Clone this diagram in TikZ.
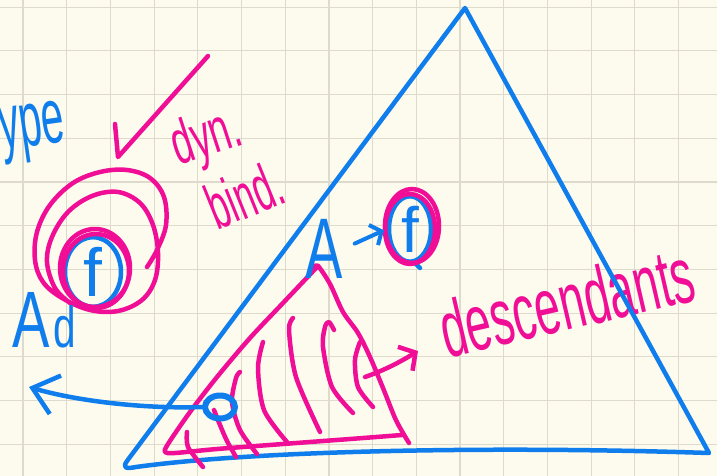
\documentclass[tikz,border=0pt]{standalone}
\usepackage{fontspec}
\setmainfont{Liberation Sans}
\usepackage{graphicx}
\usetikzlibrary{arrows.meta,shapes.geometric}
\definecolor{paper}{RGB}{252,251,238}
\definecolor{gridc}{RGB}{222,219,204}
\definecolor{penblue}{RGB}{16,125,236}
\definecolor{penpink}{RGB}{240,14,150}
\begin{document}
\begin{tikzpicture}[x=1pt,y=-1pt,line cap=round,line join=round,
  bpen/.style={draw=penblue,line width=4.5pt},
  ppen/.style={draw=penpink,line width=4.5pt},
  btext/.style={text=penblue,inner sep=0pt},
  ptext/.style={text=penpink,inner sep=0pt},
  gridline/.style={draw=gridc,line width=1.2pt}]
\useasboundingbox (0,0) rectangle (717,476);
\fill[paper] (0,0) rectangle (717,476);
\foreach \i in {0,...,15} \draw[gridline] ({23+43.7*\i},0) -- ({23+43.7*\i},476);
\foreach \j in {0,...,10} \draw[gridline] (0,{7.2+43.7*\j}) -- (717,{7.2+43.7*\j});

% texts
\node[btext,font=\fontsize{78}{78}\selectfont,anchor=base west,rotate=8] (ype) at (2,150) {\scalebox{0.52}[1]{ype}};
\node[ptext,font=\fontsize{62}{62}\selectfont,anchor=base,rotate=18] (dyn) at (212,155) {\scalebox{0.6}[1]{dyn.}};
\node[ptext,font=\fontsize{64}{64}\selectfont,anchor=base,rotate=22] (bind) at (253,216) {\scalebox{0.55}[1]{bind.}};
\node[ptext,font=\fontsize{80}{80}\selectfont,anchor=base,rotate=13] (desc) at (573,329) {\scalebox{0.57}[1]{descendants}};

% check mark
\draw[ppen] (115,124) -- (118,157) -- (208,56);

% main triangle
\draw[bpen] (465,8) -- (127,461) .. controls (122,468) and (126,469) .. (136,467)
  .. controls (260,450) and (500,446) .. (709,453) -- cycle;

% pink triangle with hatching
\draw[ppen] plot[smooth,tension=0.5] coordinates {(318,266)(283,303)(250,338)(217,377)(190,412)(168,444)(165,452)(175,453)(217,449)(283,444)(350,439)(402,435)};
\draw[ppen] plot[smooth,tension=0.5] coordinates {(409,443)(403,433)(395,418)(383,388)(370,357)(358,333)(343,312)(330,284)(318,266)(313,268)};
\draw[ppen] plot[smooth] coordinates {(187,432)(188,447)(203,467)};
\draw[ppen] plot[smooth] coordinates {(214,410)(220,425)(227,441)(236,457)};
\draw[ppen] plot[smooth] coordinates {(240,372)(236,378)(232,402)(240,430)(257,454)};
\draw[ppen] plot[smooth] coordinates {(263,342)(258,368)(264,410)(287,442)};
\draw[ppen] plot[smooth] coordinates {(293,318)(289,330)(296,377)(320,432)};
\draw[ppen] plot[smooth] coordinates {(334,330)(329,322)(325,327)(323,347)(332,387)(353,413)};
\draw[ppen] plot[smooth] coordinates {(360,342)(355,360)(358,387)(373,407)};
\coordinate (h0) at (365,377);
\coordinate (h1) at (418,351);
\draw[ppen,-{Straight Barb[length=12pt,width=28pt]}] (h0) .. controls (385,370) and (400,362) .. (h1);

% blue point with arrow to the left
\node[ellipse,draw=penblue,line width=6pt,minimum width=30pt,minimum height=23pt,inner sep=0pt] (o) at (220,407) {};
\coordinate (lt) at (29,387);
\draw[bpen,-{Straight Barb[length=24pt,width=40pt]}] (o.west) .. controls (150,409) and (80,402) .. (lt);

% left circled f
\node[ellipse,draw=penblue,line width=4.5pt,minimum width=56pt,minimum height=62pt,inner sep=0pt,text=penblue,font=\fontsize{68}{68}\selectfont] (f1) at (93,272) {f};
\draw[ppen] plot[smooth,tension=0.6] coordinates {(147,267)(157,250)(166,225)(164,197)(150,178)(127,170)(100,172)(73,183)(50,205)(37,232)(35,260)(43,282)(62,298)(90,310)(118,311)(142,300)(155,280)(158,253)(153,225)(140,203)(118,192)(92,196)(68,212)(52,237)(47,262)(55,288)(70,303)};
\draw[ppen] (95,268) ellipse [x radius=35,y radius=39];
\draw[ppen] (96,271) ellipse [x radius=33,y radius=37];
\node[btext,font=\fontsize{80}{80}\selectfont,anchor=base west] (Ad) at (12,347) {\scalebox{0.7}[1]{A\hspace{6pt}{\fontsize{58}{58}\selectfont d}}};

% A -> circled f
\node[btext,font=\fontsize{86}{86}\selectfont] (A) at (324,249) {\scalebox{0.65}[1]{A}};
\node[ellipse,draw=penblue,line width=4.5pt,minimum width=42pt,minimum height=64pt,inner sep=0pt,text=penblue,font=\fontsize{64}{64}\selectfont] (f2) at (410,229) {f};
\draw[bpen] (413,261) -- (420,268);
\draw[ppen] (412,226) ellipse [x radius=27,y radius=37];
\draw[ppen] (410,229) ellipse [x radius=25,y radius=35];
\draw[bpen,line width=4pt,-{Straight Barb[length=9pt,width=22pt]},shorten <=13pt,shorten >=3pt] (A.east) -- (f2.west);
\end{tikzpicture}
\end{document}
